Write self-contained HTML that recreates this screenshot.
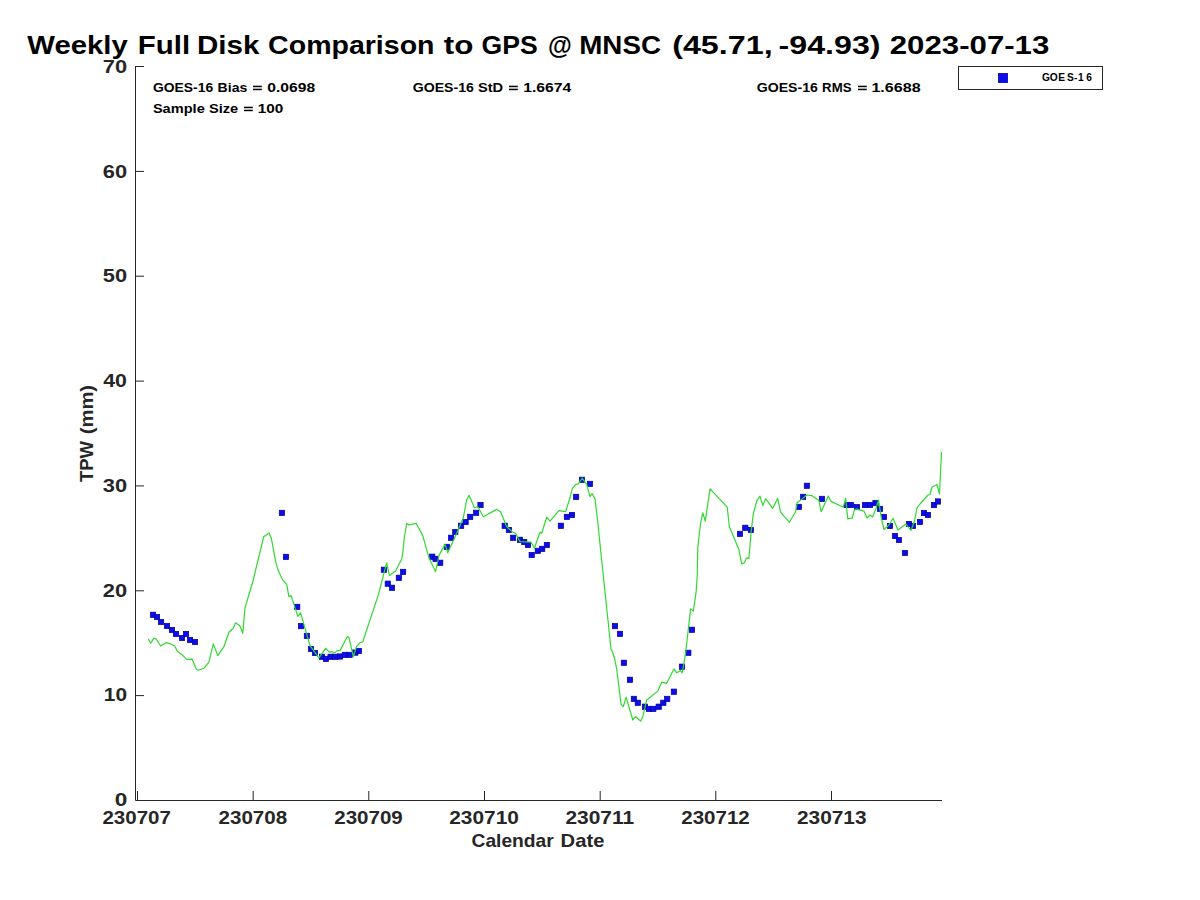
<!DOCTYPE html>
<html><head><meta charset="utf-8"><style>
html,body{margin:0;padding:0;background:#fff;}
svg{display:block;}
text{font-family:"Liberation Sans",sans-serif;font-weight:bold;}
</style></head><body>
<svg width="1200" height="900" viewBox="0 0 1200 900">
<rect width="1200" height="900" fill="#fff"/>
<g id="texts">
<text id="t0" x="27.24" y="54" font-size="25.6" fill="#000" textLength="100.52" lengthAdjust="spacingAndGlyphs">Weekly</text>
<text id="t1" x="137.77" y="54" font-size="25.6" fill="#000" textLength="52.33" lengthAdjust="spacingAndGlyphs">Full</text>
<text id="t2" x="196.93" y="54" font-size="25.6" fill="#000" textLength="62.49" lengthAdjust="spacingAndGlyphs">Disk</text>
<text id="t3" x="268.12" y="54" font-size="25.6" fill="#000" textLength="166.40" lengthAdjust="spacingAndGlyphs">Comparison</text>
<text id="t4" x="443.88" y="54" font-size="25.6" fill="#000" textLength="29.55" lengthAdjust="spacingAndGlyphs">to</text>
<text id="t5" x="481.53" y="54" font-size="25.6" fill="#000" textLength="56.20" lengthAdjust="spacingAndGlyphs">GPS</text>
<text id="t6" x="548.09" y="54" font-size="25.6" fill="#000" textLength="23.83" lengthAdjust="spacingAndGlyphs">@</text>
<text id="t7" x="579.28" y="54" font-size="25.6" fill="#000" textLength="81.66" lengthAdjust="spacingAndGlyphs">MNSC</text>
<text id="t8" x="672.18" y="54" font-size="25.6" fill="#000" textLength="100.45" lengthAdjust="spacingAndGlyphs">(45.71,</text>
<text id="t9" x="778.59" y="54" font-size="25.6" fill="#000" textLength="101.94" lengthAdjust="spacingAndGlyphs">-94.93)</text>
<text id="t10" x="889.78" y="54" font-size="25.6" fill="#000" textLength="159.54" lengthAdjust="spacingAndGlyphs">2023-07-13</text>
<text id="t11" x="152.94" y="91.5" font-size="12.6" fill="#000" textLength="60.19" lengthAdjust="spacingAndGlyphs">GOES-16</text>
<text id="t12" x="217.64" y="91.5" font-size="12.6" fill="#000" textLength="29.71" lengthAdjust="spacingAndGlyphs">Bias</text>
<text id="t13" x="267.30" y="91.5" font-size="12.6" fill="#000" textLength="47.87" lengthAdjust="spacingAndGlyphs">0.0698</text>
<text id="t14" x="412.76" y="91.5" font-size="12.6" fill="#000" textLength="61.18" lengthAdjust="spacingAndGlyphs">GOES-16</text>
<text id="t15" x="478.00" y="91.5" font-size="12.6" fill="#000" textLength="25.19" lengthAdjust="spacingAndGlyphs">StD</text>
<text id="t16" x="523.18" y="91.5" font-size="12.6" fill="#000" textLength="48.07" lengthAdjust="spacingAndGlyphs">1.6674</text>
<text id="t17" x="756.76" y="91.5" font-size="12.6" fill="#000" textLength="61.18" lengthAdjust="spacingAndGlyphs">GOES-16</text>
<text id="t18" x="822.11" y="91.5" font-size="12.6" fill="#000" textLength="29.33" lengthAdjust="spacingAndGlyphs">RMS</text>
<text id="t19" x="871.42" y="91.5" font-size="12.6" fill="#000" textLength="49.22" lengthAdjust="spacingAndGlyphs">1.6688</text>
<text id="t20" x="152.92" y="112.5" font-size="12.6" fill="#000" textLength="51.85" lengthAdjust="spacingAndGlyphs">Sample</text>
<text id="t21" x="208.91" y="112.5" font-size="12.6" fill="#000" textLength="29.31" lengthAdjust="spacingAndGlyphs">Size</text>
<text id="t22" x="257.78" y="112.5" font-size="12.6" fill="#000" textLength="25.54" lengthAdjust="spacingAndGlyphs">100</text>
<text id="t23" x="114.88" y="805.8" font-size="18.2" fill="#262626" textLength="12.57" lengthAdjust="spacingAndGlyphs">0</text>
<text id="t24" x="103.85" y="700.8" font-size="18.2" fill="#262626" textLength="23.18" lengthAdjust="spacingAndGlyphs">10</text>
<text id="t25" x="102.80" y="596.8" font-size="18.2" fill="#262626" textLength="24.31" lengthAdjust="spacingAndGlyphs">20</text>
<text id="t26" x="102.80" y="491.8" font-size="18.2" fill="#262626" textLength="24.31" lengthAdjust="spacingAndGlyphs">30</text>
<text id="t27" x="103.16" y="386.8" font-size="18.2" fill="#262626" textLength="23.66" lengthAdjust="spacingAndGlyphs">40</text>
<text id="t28" x="102.80" y="282" font-size="18.2" fill="#262626" textLength="24.31" lengthAdjust="spacingAndGlyphs">50</text>
<text id="t29" x="102.80" y="177.9" font-size="18.2" fill="#262626" textLength="24.31" lengthAdjust="spacingAndGlyphs">60</text>
<text id="t30" x="102.80" y="72.8" font-size="18.2" fill="#262626" textLength="24.31" lengthAdjust="spacingAndGlyphs">70</text>
<text id="t31" x="102.45" y="823.7" font-size="18.2" fill="#262626" textLength="68.43" lengthAdjust="spacingAndGlyphs">230707</text>
<text id="t32" x="218.51" y="823.7" font-size="18.2" fill="#262626" textLength="68.65" lengthAdjust="spacingAndGlyphs">230708</text>
<text id="t33" x="334.27" y="823.7" font-size="18.2" fill="#262626" textLength="68.51" lengthAdjust="spacingAndGlyphs">230709</text>
<text id="t34" x="449.27" y="823.7" font-size="18.2" fill="#262626" textLength="69.65" lengthAdjust="spacingAndGlyphs">230710</text>
<text id="t35" x="565.42" y="823.7" font-size="18.2" fill="#262626" textLength="68.66" lengthAdjust="spacingAndGlyphs">230711</text>
<text id="t36" x="681.28" y="823.7" font-size="18.2" fill="#262626" textLength="68.51" lengthAdjust="spacingAndGlyphs">230712</text>
<text id="t37" x="796.96" y="823.7" font-size="18.2" fill="#262626" textLength="69.56" lengthAdjust="spacingAndGlyphs">230713</text>
<text id="t38" x="471.53" y="846.9" font-size="18.2" fill="#262626" textLength="82.20" lengthAdjust="spacingAndGlyphs">Calendar</text>
<text id="t39" x="560.64" y="846.9" font-size="18.2" fill="#262626" textLength="43.75" lengthAdjust="spacingAndGlyphs">Date</text>
</g>
<g id="other">
<g fill="#000">
<rect x="253" y="85.7" width="8.8" height="1.5"/><rect x="253" y="88.7" width="8.8" height="1.5"/>
<rect x="509" y="85.7" width="8.8" height="1.5"/><rect x="509" y="88.7" width="8.8" height="1.5"/>
<rect x="858" y="85.7" width="8.8" height="1.5"/><rect x="858" y="88.7" width="8.8" height="1.5"/>
<rect x="244" y="106.7" width="8.8" height="1.5"/><rect x="244" y="109.7" width="8.8" height="1.5"/>
</g>
<text transform="translate(93.1 482.0) rotate(-90)" x="0" y="0" font-size="18.2" fill="#262626" textLength="41.03" lengthAdjust="spacingAndGlyphs">TPW</text>
<text transform="translate(93.1 434.3) rotate(-90)" x="0" y="0" font-size="18.2" fill="#262626" textLength="49.41" lengthAdjust="spacingAndGlyphs">(mm)</text>
<g stroke="#262626" stroke-width="1" fill="none">
<path d="M135.5 66 V800.5 H942"/>
<path d="M135.5 695.6 H144"/><path d="M135.5 590.8 H144"/><path d="M135.5 485.9 H144"/><path d="M135.5 381.1 H144"/><path d="M135.5 276.2 H144"/><path d="M135.5 171.4 H144"/><path d="M135.5 66.5 H144"/>
<path d="M137.5 800.5 V791"/><path d="M253.2 800.5 V791"/><path d="M368.8 800.5 V791"/><path d="M484.5 800.5 V791"/><path d="M600.2 800.5 V791"/><path d="M715.8 800.5 V791"/><path d="M831.5 800.5 V791"/>
</g>
<g fill="#0c0cec" stroke="#00009a" stroke-width="0.7"><rect x="150.35" y="612.15" width="5.3" height="5.3"/><rect x="154.35" y="614.35" width="5.3" height="5.3"/><rect x="158.35" y="619.35" width="5.3" height="5.3"/><rect x="164.35" y="623.35" width="5.3" height="5.3"/><rect x="169.35" y="627.35" width="5.3" height="5.3"/><rect x="173.35" y="631.35" width="5.3" height="5.3"/><rect x="179.35" y="635.35" width="5.3" height="5.3"/><rect x="183.35" y="631.35" width="5.3" height="5.3"/><rect x="187.35" y="637.35" width="5.3" height="5.3"/><rect x="192.35" y="639.35" width="5.3" height="5.3"/><rect x="279.35" y="510.25" width="5.3" height="5.3"/><rect x="283.35" y="554.25" width="5.3" height="5.3"/><rect x="294.55" y="604.25" width="5.3" height="5.3"/><rect x="298.35" y="623.45" width="5.3" height="5.3"/><rect x="304.25" y="633.25" width="5.3" height="5.3"/><rect x="308.35" y="646.35" width="5.3" height="5.3"/><rect x="312.35" y="650.35" width="5.3" height="5.3"/><rect x="319.35" y="654.15" width="5.3" height="5.3"/><rect x="323.35" y="656.25" width="5.3" height="5.3"/><rect x="327.95" y="654.15" width="5.3" height="5.3"/><rect x="332.55" y="654.15" width="5.3" height="5.3"/><rect x="337.35" y="653.85" width="5.3" height="5.3"/><rect x="342.25" y="652.25" width="5.3" height="5.3"/><rect x="346.95" y="652.25" width="5.3" height="5.3"/><rect x="352.65" y="649.95" width="5.3" height="5.3"/><rect x="356.25" y="648.35" width="5.3" height="5.3"/><rect x="381.25" y="567.15" width="5.3" height="5.3"/><rect x="385.15" y="581.05" width="5.3" height="5.3"/><rect x="389.35" y="585.15" width="5.3" height="5.3"/><rect x="396.25" y="575.15" width="5.3" height="5.3"/><rect x="400.45" y="569.25" width="5.3" height="5.3"/><rect x="429.55" y="554.05" width="5.3" height="5.3"/><rect x="432.95" y="556.25" width="5.3" height="5.3"/><rect x="437.55" y="560.15" width="5.3" height="5.3"/><rect x="444.25" y="544.25" width="5.3" height="5.3"/><rect x="448.45" y="535.15" width="5.3" height="5.3"/><rect x="452.65" y="529.35" width="5.3" height="5.3"/><rect x="458.45" y="523.15" width="5.3" height="5.3"/><rect x="462.95" y="519.35" width="5.3" height="5.3"/><rect x="467.55" y="514.25" width="5.3" height="5.3"/><rect x="473.45" y="510.15" width="5.3" height="5.3"/><rect x="477.85" y="502.35" width="5.3" height="5.3"/><rect x="502.05" y="523.15" width="5.3" height="5.3"/><rect x="506.25" y="527.35" width="5.3" height="5.3"/><rect x="510.45" y="535.15" width="5.3" height="5.3"/><rect x="517.35" y="537.15" width="5.3" height="5.3"/><rect x="521.55" y="539.35" width="5.3" height="5.3"/><rect x="525.35" y="542.35" width="5.3" height="5.3"/><rect x="529.05" y="552.35" width="5.3" height="5.3"/><rect x="535.15" y="548.25" width="5.3" height="5.3"/><rect x="539.55" y="546.25" width="5.3" height="5.3"/><rect x="544.25" y="542.35" width="5.3" height="5.3"/><rect x="558.25" y="523.15" width="5.3" height="5.3"/><rect x="564.25" y="514.25" width="5.3" height="5.3"/><rect x="569.35" y="512.35" width="5.3" height="5.3"/><rect x="573.45" y="494.25" width="5.3" height="5.3"/><rect x="579.35" y="477.15" width="5.3" height="5.3"/><rect x="587.35" y="481.25" width="5.3" height="5.3"/><rect x="612.35" y="623.45" width="5.3" height="5.3"/><rect x="617.35" y="631.25" width="5.3" height="5.3"/><rect x="621.25" y="660.15" width="5.3" height="5.3"/><rect x="627.35" y="677.15" width="5.3" height="5.3"/><rect x="631.25" y="696.25" width="5.3" height="5.3"/><rect x="635.15" y="700.15" width="5.3" height="5.3"/><rect x="642.35" y="704.05" width="5.3" height="5.3"/><rect x="646.25" y="706.25" width="5.3" height="5.3"/><rect x="650.65" y="706.25" width="5.3" height="5.3"/><rect x="656.05" y="704.05" width="5.3" height="5.3"/><rect x="660.65" y="700.15" width="5.3" height="5.3"/><rect x="664.55" y="696.25" width="5.3" height="5.3"/><rect x="671.25" y="689.05" width="5.3" height="5.3"/><rect x="679.35" y="664.05" width="5.3" height="5.3"/><rect x="685.65" y="650.15" width="5.3" height="5.3"/><rect x="689.35" y="627.15" width="5.3" height="5.3"/><rect x="737.35" y="531.25" width="5.3" height="5.3"/><rect x="742.65" y="525.15" width="5.3" height="5.3"/><rect x="748.25" y="527.35" width="5.3" height="5.3"/><rect x="796.25" y="504.25" width="5.3" height="5.3"/><rect x="800.45" y="494.25" width="5.3" height="5.3"/><rect x="804.25" y="483.15" width="5.3" height="5.3"/><rect x="819.35" y="496.25" width="5.3" height="5.3"/><rect x="844.35" y="502.35" width="5.3" height="5.3"/><rect x="848.35" y="502.35" width="5.3" height="5.3"/><rect x="854.35" y="504.45" width="5.3" height="5.3"/><rect x="862.35" y="502.35" width="5.3" height="5.3"/><rect x="867.35" y="502.35" width="5.3" height="5.3"/><rect x="872.85" y="500.45" width="5.3" height="5.3"/><rect x="877.35" y="506.25" width="5.3" height="5.3"/><rect x="881.35" y="514.35" width="5.3" height="5.3"/><rect x="887.35" y="523.35" width="5.3" height="5.3"/><rect x="892.35" y="533.35" width="5.3" height="5.3"/><rect x="896.35" y="537.35" width="5.3" height="5.3"/><rect x="902.35" y="550.35" width="5.3" height="5.3"/><rect x="906.35" y="521.35" width="5.3" height="5.3"/><rect x="910.35" y="523.35" width="5.3" height="5.3"/><rect x="917.35" y="519.35" width="5.3" height="5.3"/><rect x="921.35" y="510.35" width="5.3" height="5.3"/><rect x="925.35" y="512.35" width="5.3" height="5.3"/><rect x="931.35" y="502.35" width="5.3" height="5.3"/><rect x="935.35" y="498.85" width="5.3" height="5.3"/></g>
<path d="M148.3 639.0 L150.7 643.3 L153.7 638.3 L156.0 638.7 L160.7 646.0 L166.0 642.7 L170.0 643.7 L174.7 646.0 L177.3 651.3 L182.7 655.3 L186.7 659.3 L192.0 659.1 L196.4 669.3 L198.2 670.2 L203.9 668.3 L208.9 662.2 L213.3 643.9 L217.8 655.6 L223.9 646.7 L228.9 632.2 L233.3 628.3 L235.6 622.8 L240.0 626.1 L242.8 633.3 L245.0 607.8 L253.3 580.0 L256.2 567.6 L263.8 536.4 L265.6 535.6 L269.1 532.9 L271.3 538.2 L275.8 562.2 L278.4 571.1 L282.4 579.6 L286.7 584.4 L288.9 596.7 L291.1 595.6 L297.8 616.4 L300.6 612.8 L310.0 645.6 L318.9 657.8 L325.6 648.3 L329.4 652.2 L332.2 651.7 L334.4 652.8 L337.8 650.6 L340.0 650.6 L347.2 636.7 L348.9 637.2 L353.3 656.7 L356.7 646.1 L360.0 642.8 L362.8 641.7 L378.5 594.4 L383.9 573.3 L386.7 562.8 L389.4 575.6 L395.6 571.1 L401.7 558.9 L402.8 553.3 L404.0 540.0 L406.7 523.3 L408.9 525.0 L416.1 523.3 L422.8 535.6 L428.9 557.8 L435.6 571.7 L438.9 555.6 L445.0 544.4 L447.8 552.8 L456.7 533.3 L463.3 517.8 L466.7 500.0 L469.1 495.3 L474.4 507.8 L477.8 506.7 L483.3 516.8 L496.7 509.4 L500.6 511.7 L506.7 526.7 L512.2 531.7 L515.6 533.3 L520.0 541.7 L531.1 542.2 L534.4 548.3 L540.0 532.2 L541.7 533.3 L546.7 517.2 L550.0 521.1 L558.9 510.6 L565.6 511.7 L570.0 497.8 L572.2 488.9 L575.6 484.4 L578.3 483.9 L582.2 478.3 L586.7 484.4 L590.0 496.7 L592.0 493.6 L595.0 498.9 L597.8 522.2 L600.6 550.0 L611.1 650.0 L611.7 650.0 L614.4 657.8 L616.7 668.9 L621.1 704.4 L623.3 706.7 L626.1 697.2 L632.8 720.0 L635.6 716.7 L640.6 721.1 L642.8 716.7 L646.7 700.0 L657.8 691.1 L661.7 682.2 L666.7 683.3 L673.9 668.9 L676.7 672.8 L680.6 670.6 L682.2 672.8 L685.6 653.3 L690.6 608.9 L693.3 611.1 L696.1 592.2 L697.2 576.7 L697.8 547.8 L700.6 523.3 L702.8 512.8 L705.3 521.1 L710.0 488.9 L727.2 507.2 L729.4 526.7 L738.9 549.4 L741.7 563.9 L744.4 562.8 L746.7 557.8 L748.9 558.3 L751.1 532.2 L753.3 513.9 L756.7 501.1 L760.0 496.1 L762.8 505.6 L765.6 498.7 L772.8 508.3 L777.7 498.3 L780.6 512.2 L784.4 516.7 L789.4 522.2 L795.6 511.7 L797.2 502.8 L802.2 498.9 L806.7 495.0 L811.7 495.6 L818.9 500.6 L821.1 511.7 L828.3 496.1 L830.6 501.1 L843.3 507.2 L845.6 498.3 L847.8 518.9 L852.2 517.8 L854.4 510.0 L856.1 508.9 L857.8 509.4 L863.9 511.1 L867.0 518.0 L870.0 515.0 L872.5 517.0 L876.0 508.5 L878.5 499.8 L881.5 519.0 L884.0 529.5 L889.0 525.0 L893.0 518.3 L898.0 530.0 L906.0 524.0 L911.0 530.5 L914.5 521.0 L917.0 508.0 L920.0 504.0 L928.0 495.0 L930.0 494.5 L932.0 487.0 L937.0 484.5 L939.5 494.0 L941.5 452.0" fill="none" stroke="#30d830" stroke-width="1.2" stroke-linejoin="round"/>
<rect x="958.5" y="66.5" width="144" height="23" fill="#fff" stroke="#262626" stroke-width="1"/>
<rect x="998.35" y="73.35" width="9.3" height="9.3" fill="#0c0cec" stroke="#00009a" stroke-width="0.7"/>
<text x="1041.99 1049.69 1058.16 1066.95 1073.96 1077.98 1086.36" y="80.9" font-size="10.2" fill="#000">GOES-16</text>
</g>
</svg>
</body></html>
